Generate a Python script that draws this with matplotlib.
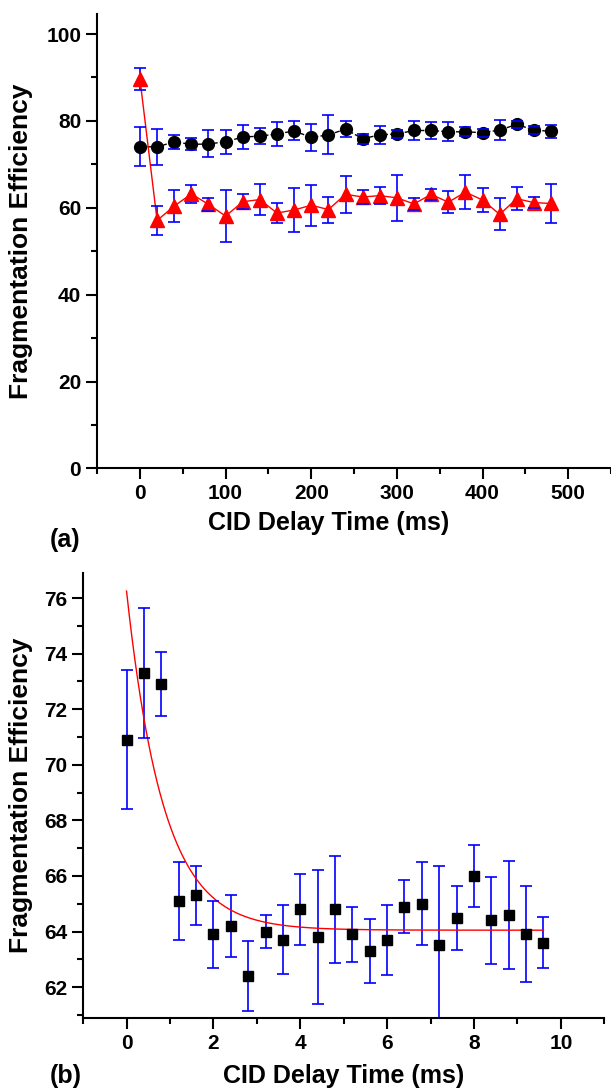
import numpy as np
import matplotlib.pyplot as plt
from matplotlib.ticker import MultipleLocator

plt.rcParams['font.family'] = ['Liberation Sans', 'DejaVu Sans']
plt.rcParams['font.weight'] = 'bold'

# ---- panel (a): CID delay 0..480 ms ----
t_a = np.arange(0, 500, 20)
circ = [74.1, 74.0, 75.2, 74.6, 74.7, 75.2, 76.3, 76.5, 77.0, 77.7, 76.2, 76.8, 78.1,
        75.9, 76.8, 77.0, 77.8, 77.8, 77.5, 77.5, 77.3, 77.9, 79.2, 77.9, 77.6]
circ_err = [4.4, 4.2, 1.6, 1.4, 3.1, 2.8, 2.8, 1.8, 2.7, 2.2, 3.1, 4.5, 1.8,
            1.1, 2.1, 0.9, 2.1, 1.9, 2.2, 1.0, 0.9, 2.3, 0.85, 0.85, 1.5]
tri = [89.6, 57.1, 60.4, 63.2, 60.8, 58.1, 61.4, 61.9, 58.8, 59.5, 60.6, 59.6, 63.1,
       62.5, 62.8, 62.3, 60.9, 63.1, 61.3, 63.6, 61.8, 58.5, 62.1, 61.2, 61.0]
tri_err = [2.5, 3.3, 3.6, 2.0, 1.5, 6.0, 1.7, 3.6, 2.3, 5.1, 4.7, 3.0, 4.3,
           1.7, 2.0, 5.3, 1.3, 1.2, 2.6, 3.9, 2.8, 3.7, 2.6, 1.3, 4.4]

# ---- panel (b): CID delay 0..9.6 ms ----
t_b = np.arange(25) * 0.4
sq = [70.9, 73.3, 72.9, 65.1, 65.3, 63.9, 64.2, 62.4, 64.0, 63.7, 64.8, 63.8, 64.8,
      63.9, 63.3, 63.7, 64.9, 65.0, 63.5, 64.5, 66.0, 64.4, 64.6, 63.9, 63.6]
sq_err = [2.5, 2.35, 1.15, 1.4, 1.05, 1.2, 1.1, 1.26, 0.6, 1.24, 1.27, 2.4, 1.93,
          1.0, 1.16, 1.25, 0.95, 1.5, 2.85, 1.15, 1.12, 1.55, 1.95, 1.73, 0.92]
# exponential decay fit: y0 + A*exp(-t/tau)
fit_y0, fit_A, fit_tau = 64.05, 12.2, 0.85

fig = plt.figure(figsize=(6.11, 10.9), dpi=100)

def style(ax):
    for s in ['top', 'right']:
        ax.spines[s].set_visible(False)
    for s in ['left', 'bottom']:
        ax.spines[s].set_linewidth(1.5)
    ax.tick_params(which='major', direction='out', length=8, width=1.5, labelsize=15)
    ax.tick_params(which='minor', direction='out', length=4.5, width=1.5)
    for lab in ax.get_xticklabels() + ax.get_yticklabels():
        lab.set_fontweight('bold')

def bars(ax, x, y, err):
    # vertical bars behind the markers, caps in front (as in the original)
    eb = ax.errorbar(x, y, yerr=err, fmt='none', ecolor='blue', elinewidth=1.2,
                     capsize=4, capthick=1.2)
    for c in eb[2]:
        c.set_zorder(1)
    for c in eb[1]:
        c.set_zorder(3)

# top panel
ax1 = fig.add_axes([0.159, 0.5702, 0.841, 0.4165])
bars(ax1, t_a, circ, circ_err)
bars(ax1, t_a, tri, tri_err)
ax1.plot(t_a, circ, color='black', ls='--', lw=1, marker='o', ms=8.5, zorder=2)
ax1.plot(t_a, tri, color='red', ls='-', lw=1, marker='^', ms=9.5, zorder=2)
ax1.set_xlim(-50, 550)
ax1.set_ylim(0, 104.5)
ax1.xaxis.set_minor_locator(MultipleLocator(50))
ax1.yaxis.set_major_locator(MultipleLocator(20))
ax1.yaxis.set_minor_locator(MultipleLocator(10))
ax1.set_xticks([0, 100, 200, 300, 400, 500])
style(ax1)
ax1.set_xlabel('CID Delay Time (ms)', fontsize=18, fontweight='bold')
ax1.xaxis.set_label_coords(0.45, -0.094)
ax1.set_ylabel('Fragmentation Efficiency', fontsize=19, fontweight='bold')
ax1.yaxis.set_label_coords(-0.125, 0.5)
fig.text(0.107, 0.505, '(a)', fontsize=18, fontweight='bold', ha='center', va='center')

# bottom panel
ax2 = fig.add_axes([0.136, 0.0663, 0.853, 0.408])
t_fit = np.linspace(0, t_b[-1], 300)
ax2.plot(t_fit, fit_y0 + fit_A * np.exp(-t_fit / fit_tau), color='red', lw=1, zorder=1.5)
bars(ax2, t_b, sq, sq_err)
ax2.plot(t_b, sq, ls='none', marker='s', color='black', ms=7, zorder=2)
ax2.set_xlim(-1, 11)
ax2.set_ylim(60.9, 76.9)
ax2.xaxis.set_minor_locator(MultipleLocator(1))
ax2.yaxis.set_minor_locator(MultipleLocator(1))
ax2.set_xticks([0, 2, 4, 6, 8, 10])
ax2.set_yticks([62, 64, 66, 68, 70, 72, 74, 76])
style(ax2)
ax2.set_xlabel('CID Delay Time (ms)', fontsize=18, fontweight='bold')
ax2.xaxis.set_label_coords(0.5, -0.103)
ax2.set_ylabel('Fragmentation Efficiency', fontsize=19, fontweight='bold')
ax2.yaxis.set_label_coords(-0.096, 0.5)
fig.text(0.107, 0.013, '(b)', fontsize=18, fontweight='bold', ha='center', va='center')

fig.savefig('out.png', dpi=100)
